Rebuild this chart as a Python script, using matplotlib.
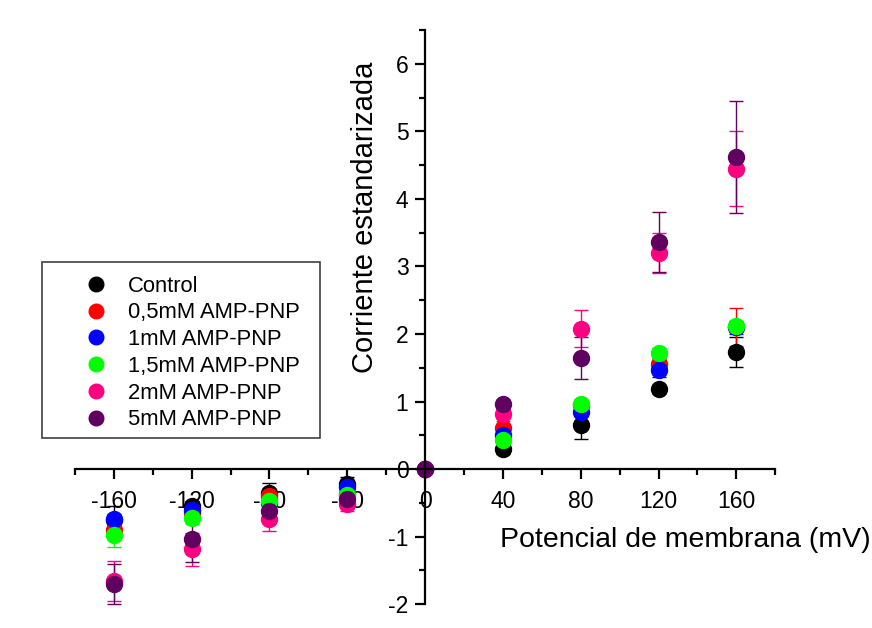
import matplotlib.pyplot as plt
import numpy as np
from matplotlib.ticker import MultipleLocator
from matplotlib.lines import Line2D
from matplotlib.patches import Rectangle

plt.rcParams['font.family'] = ['Liberation Sans', 'DejaVu Sans']
plt.rcParams['axes.unicode_minus'] = False

# membrane potential (mV)
voltage = [-160, -120, -80, -40, 0, 40, 80, 120, 160]

labels = ['Control', '0,5mM AMP-PNP', '1mM AMP-PNP',
          '1,5mM AMP-PNP', '2mM AMP-PNP', '5mM AMP-PNP']
colors = ['#000000', '#ff0000', '#0000ff', '#00ff00', '#ff0080', '#600060']

# standardized current
control = [-0.75, -0.55, -0.35, -0.22, 0, 0.30, 0.66, 1.18, 1.73]
amp_05 = [-0.90, -0.65, -0.40, -0.37, 0, 0.61, 0.95, 1.55, 2.10]
amp_1 = [-0.74, -0.60, -0.50, -0.27, 0, 0.50, 0.84, 1.47, 2.10]
amp_15 = [-0.97, -0.72, -0.47, -0.39, 0, 0.43, 0.97, 1.72, 2.12]
amp_2 = [-1.66, -1.19, -0.74, -0.52, 0, 0.81, 2.08, 3.20, 4.45]
amp_5 = [-1.70, -1.03, -0.62, -0.45, 0, 0.97, 1.65, 3.36, 4.62]

# error bars
control_err = [0.20, 0.08, 0.15, 0.10, 0, 0.07, 0.22, 0.05, 0.22]
amp_05_err = [0.10, 0.10, 0.07, 0.05, 0, 0.05, 0.08, 0.10, 0.28]
amp_1_err = [0.08, 0.08, 0.06, 0.05, 0, 0.10, 0.05, 0.10, 0.10]
amp_15_err = [0.18, 0.10, 0.06, 0.05, 0, 0.05, 0.05, 0.08, 0.08]
amp_2_err = [0.30, 0.25, 0.18, 0.10, 0, 0.10, 0.27, 0.30, 0.55]
amp_5_err = [0.30, 0.35, 0.10, 0.05, 0, 0.05, 0.31, 0.44, 0.83]

series = [control, amp_05, amp_1, amp_15, amp_2, amp_5]
errors = [control_err, amp_05_err, amp_1_err, amp_15_err, amp_2_err, amp_5_err]

fig = plt.figure(figsize=(8.72, 6.28), dpi=100)
ax = fig.add_axes([0.086, 0.038, 0.803, 0.914])

for vals, err, col in zip(series, errors, colors):
    ax.errorbar(voltage, vals, yerr=err, fmt='o', color=col, ms=11.5,
                ecolor=col, elinewidth=1, capsize=5, capthick=1,
                clip_on=False)

ax.set_xlim(-180, 180)
ax.set_ylim(-2, 6.5)

ax.spines['left'].set_position(('data', 0))
ax.spines['bottom'].set_position(('data', 0))
ax.spines['right'].set_visible(False)
ax.spines['top'].set_visible(False)
ax.spines['left'].set_linewidth(1.6)
ax.spines['bottom'].set_linewidth(1.6)

ax.xaxis.set_major_locator(MultipleLocator(40))
ax.xaxis.set_minor_locator(MultipleLocator(20))
ax.yaxis.set_major_locator(MultipleLocator(1))
ax.yaxis.set_minor_locator(MultipleLocator(0.5))
ax.tick_params(which='both', direction='out', width=1.6, labelsize=16.5)
ax.tick_params(which='major', length=7)
ax.tick_params(which='minor', length=4.5)
ax.tick_params(axis='x', which='major', pad=8)
ax.tick_params(axis='y', which='major', pad=5)

fig.text(0.419, 0.654, 'Corriente estandarizada', rotation=90,
         ha='center', va='center', fontsize=21)
fig.text(0.786, 0.14, 'Potencial de membrana (mV)',
         ha='center', va='center', fontsize=20.5)

# legend box drawn separately
box = Rectangle((0.0482, 0.3025), 0.3188, 0.2803, transform=fig.transFigure,
                facecolor='white', edgecolor='#404040', linewidth=1.2,
                zorder=4, clip_on=False)
ax.add_patch(box)

handles = [Line2D([], [], ls='none', marker='o', ms=10.5, color=c) for c in colors]
leg = ax.legend(handles, labels, loc='upper left',
                bbox_to_anchor=(85.0 / 872, 0.561),
                bbox_transform=fig.transFigure, fontsize=15.8,
                handletextpad=0.95, labelspacing=0.26, borderpad=0,
                handlelength=1.0, borderaxespad=0, frameon=False)
leg.set_zorder(6)

fig.savefig('out.png', dpi=100)
